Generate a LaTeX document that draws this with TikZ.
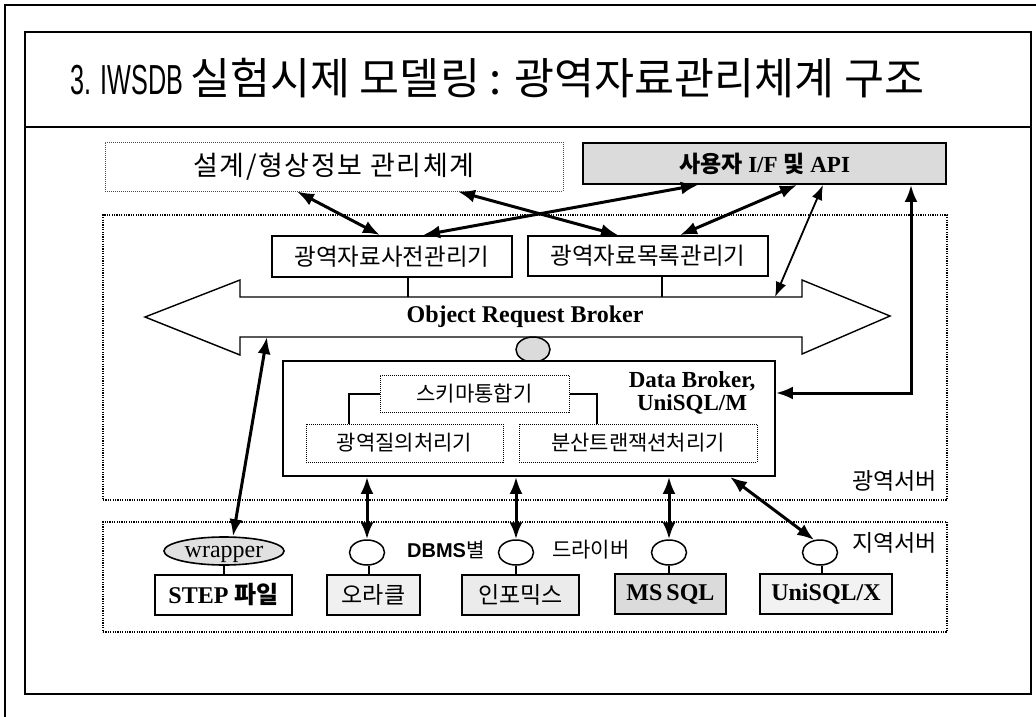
\documentclass[tikz,border=0pt]{standalone}
\usepackage{fontspec}
\setmainfont{Liberation Serif}
\newfontfamily\kr{Noto Sans CJK KR}
\newfontfamily\krwide{Noto Sans CJK KR}[LetterSpace=6]
\newfontfamily\arial{Liberation Sans}
\usetikzlibrary{arrows.meta,shapes.geometric}
\newcommand\setfs[1]{\fontsize{#1}{#1}\selectfont}

\begin{document}
\begin{tikzpicture}[x=1pt,y=-1pt,
  box/.style={draw,line width=1.8pt,inner sep=0pt},
  dotbox/.style={draw,line width=1pt,dash pattern=on 1pt off 1pt,inner sep=0pt},
  region/.style={draw,line width=1.4pt,dash pattern=on 1.2pt off 1.2pt},
  tipL/.tip={Latex[length=17pt,width=13pt]},
  tipS/.tip={Latex[length=15pt,width=11pt]},
  link/.style={line width=3pt,tipL-tipL},
  thinlink/.style={line width=1.8pt,tipS-tipS},
  stub/.style={line width=2.6pt},
  oval/.style={draw,ellipse,line width=1.5pt,inner sep=0pt,minimum width=35pt,minimum height=25pt,fill=white},
  krtext/.style={font=\kr\setfs{23pt}},
]
\useasboundingbox (0,0) rectangle (1036,717);

% page frame and slide frame
\draw[line width=1.5pt] (5,717) -- (5,5) -- (1036,5);
\draw[line width=1.8pt] (25,32) rectangle (1031,694);
\draw[line width=1.2pt] (25,127) -- (1031,127);

% title
\node[anchor=base west,inner sep=0pt] (title) at (70,95)
  {\setfs{42pt}\scalebox{0.6}[1]{\arial 3. IWSDB}\,{\kr\setfs{43.5pt}실험시제 모델링 : 광역자료관리체계 구조}};

% upper systems
\node[dotbox,draw=black!70,minimum width=458pt,minimum height=49pt,font=\krwide\setfs{27pt}] (design) at (334,166.5)
  {설계/형상정보 관리체계};
\node[box,fill=black!14,minimum width=363pt,minimum height=41pt] (user) at (764.5,163.5)
  {\setfs{23pt}{\kr\bfseries 사용자} \textbf{I/F} {\kr\bfseries 및} \textbf{API}};

% global server region
\node[region,minimum width=844pt,minimum height=285pt,inner sep=0pt] (gserver) at (525,357.5) {};
\node[krtext,anchor=base east,inner sep=0pt] (glabel) at (937,489) {광역서버};

\node[box,minimum width=240pt,minimum height=41pt,font=\kr\setfs{23.5pt}] (dict) at (392,256.5) {광역자료사전관리기};
\node[box,minimum width=240pt,minimum height=40pt,font=\kr\setfs{23.5pt}] (catalog) at (648,256) {광역자료목록관리기};

% object request broker (double-headed block arrow)
\coordinate (orbtop) at (0,297);
\coordinate (orbbot) at (0,337);
\draw[line width=1.4pt] (240,297) -- (240,280) -- (145,317) -- (240,355) -- (240,337)
  -- (802,337) -- (802,354) -- (890,316) -- (802,280) -- (802,297) -- cycle;
\node[font=\bfseries\setfs{24pt}] (orb) at (525,317) {Object Request Broker};
\node[draw,ellipse,line width=1.5pt,fill=black!14,minimum width=34pt,minimum height=25pt,inner sep=0pt] (orbport) at (533,349.5) {};

\draw[stub] (408,0 |- dict.south) -- (408,0 |- orbtop);
\draw[stub] (662,0 |- catalog.south) -- (662,0 |- orbtop);

% data broker
\node[box,fill=white,minimum width=492pt,minimum height=115pt] (dbroker) at (529,418.5) {};
\node[align=center,font=\bfseries\setfs{23pt},inner sep=0pt] (dblabel) at (692,393)
  {\setlength{\baselineskip}{30pt}Data Broker,\\UniSQL/M};
\node[dotbox,minimum width=189pt,minimum height=37pt,font=\kr\setfs{21pt}] (schema) at (474.5,393.5) {스키마통합기};
\node[dotbox,minimum width=197pt,minimum height=38pt,font=\kr\setfs{21pt}] (query) at (404.5,443) {광역질의처리기};
\node[dotbox,minimum width=238pt,minimum height=38pt,font=\kr\setfs{21pt}] (trans) at (638,443) {분산트랜잭션처리기};
\draw[line width=2pt] (schema.west) -| (349,0 |- query.north);
\draw[line width=2pt] (schema.east) -| (597,0 |- trans.north);

% local server region
\node[region,minimum width=844pt,minimum height=110pt,inner sep=0pt] (lserver) at (525,577) {};
\node[krtext,anchor=base east,inner sep=0pt] (llabel) at (937,551) {지역서버};
\node[inner sep=0pt,anchor=base west] (dbms) at (407,557) {\setfs{20pt}{\arial\bfseries DBMS}{\kr 별}};
\node[inner sep=0pt,anchor=base west,font=\kr\setfs{21pt}] (driver) at (552,557) {드라이버};

\node[draw,ellipse,line width=1.6pt,fill=black!12,minimum width=120pt,minimum height=28pt,inner sep=0pt,
      text height=15pt,text depth=3pt] (wrap) at (224,551)
  {\setfs{24pt}wrapper};
\node[oval] (p1) at (367,552.5) {};
\node[oval] (p2) at (516,552.5) {};
\node[oval] (p3) at (669,552.5) {};
\node[oval] (p4) at (820,552.5) {};

\node[box,fill=white,minimum width=137pt,minimum height=40pt] (step) at (223.5,595)
  {\setfs{24pt}\textbf{STEP} {\kr\bfseries 파일}};
\node[box,fill=black!6,minimum width=93pt,minimum height=40pt,krtext] (oracle) at (373.5,595) {오라클};
\node[box,fill=black!8,minimum width=117pt,minimum height=40pt,krtext] (informix) at (520.5,595) {인포믹스};
\node[box,fill=black!14,minimum width=111pt,minimum height=40pt,font=\bfseries\setfs{24pt}] (mssql) at (670.5,594) {MS\,SQL};
\node[box,fill=black!5,minimum width=132pt,minimum height=40pt,font=\bfseries\setfs{24pt}] (unisqlx) at (826,594) {UniSQL/X};

\draw[stub] (wrap.south) -- (wrap.south |- step.north);
\draw[stub] (369,0 |- p1.south) -- (369,0 |- oracle.north);
\draw[stub] (516,0 |- p2.south) -- (516,0 |- informix.north);
\draw[stub] (669,0 |- p3.south) -- (669,0 |- mssql.north);
\draw[stub] (822,0 |- p4.south) -- (822,0 |- unisqlx.north);

% links between the upper systems and the managers
\draw[link] (297,0 |- design.south) -- (380,0 |- dict.north);
\draw[link] (458,0 |- design.south) -- (618,0 |- catalog.north);
\draw[link] (698,0 |- user.south) -- (423,0 |- dict.north);
\draw[link] (797,0 |- user.south) -- (680,0 |- catalog.north);
\draw[thinlink] (823,0 |- user.south) -- (775,0 |- orbtop);
\draw[link] (911,0 |- user.south) |- (dbroker.east |- 0,393);

% links down to the local servers
\draw[link] (267,0 |- orbbot) -- (233,0 |- wrap.north);
\draw[link] (367,0 |- dbroker.south) -- (p1.north);
\draw[link] (516,0 |- dbroker.south) -- (p2.north);
\draw[link] (669,0 |- dbroker.south) -- (p3.north);
\draw[link] (730,0 |- dbroker.south) -- (p4.115);
\end{tikzpicture}
\end{document}
